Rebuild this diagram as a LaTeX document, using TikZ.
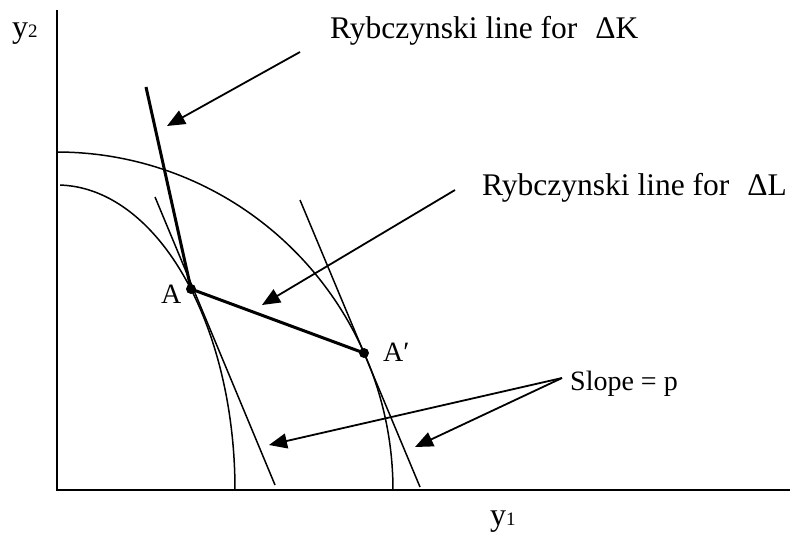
\documentclass[tikz,border=0pt]{standalone}
\usepackage{fontspec}
\setmainfont{Liberation Serif}
\usetikzlibrary{arrows.meta}
\begin{document}
\begin{tikzpicture}[x=1pt,y=-1pt,
  axis/.style={line width=2pt},
  thin/.style={line width=1.5pt},
  thick line/.style={line width=3pt},
  callout/.style={line width=1.8pt,-{Triangle[length=18pt,width=15pt]}},
  dot/.style={circle,fill=black,inner sep=0pt,minimum size=10pt},
  lbl/.style={inner sep=0pt,anchor=base west,font=\fontsize{31.5}{36}\selectfont},
  small/.style={inner sep=0pt,anchor=base west,font=\fontsize{28}{30}\selectfont},
  axlbl/.style={inner sep=0pt,anchor=base west,font=\fontsize{32}{34}\selectfont}]
\useasboundingbox (0,0) rectangle (791,538);
% axes
\coordinate (O) at (57,490);
\coordinate (ytop) at (57,10);
\coordinate (xend) at (790,490);
\draw[axis] (ytop) -- (O) -- (xend);
% curves
\draw[thin] plot[domain=0:90,samples=80] ({57+336*cos(\x)},{490-338*sin(\x)});
\draw[thin] plot[domain=0:89,samples=80] ({57+178*cos(\x)},{490-305*sin(\x)});
% points
\coordinate (A) at (191,289);
\coordinate (Ap) at (364,353);
% tangent lines
\coordinate (t1a) at (155,197);
\coordinate (t1b) at (275,485);
\coordinate (t2a) at (300,200);
\coordinate (t2b) at (420,487);
\draw[thin] (t1a) -- (t1b);
\draw[thin] (t2a) -- (t2b);
% Rybczynski lines
\coordinate (K) at (146,87);
\draw[thick line] (K) -- (A);
\draw[thick line] (A) -- (Ap);
\node[dot] (dA) at (A) {};
\node[dot] (dAp) at (Ap) {};
% labels
\node[lbl] (lK) at (330,38) {Rybczynski line for\hspace{10pt} ΔK};
\node[lbl] (lL) at (482,195) {Rybczynski line for\hspace{10pt} ΔL};
\node[small] (lS) at (570,390) {Slope = p};
\node[small] (lA) at (161,303) {A};
\node[small] (lAp) at (383,361) {A′};
\node[axlbl] (y2) at (12,37) {y{\fontsize{19}{20}\selectfont 2}};
\node[axlbl] (y1) at (490,525) {y{\fontsize{19}{20}\selectfont 1}};
% callout arrows
\coordinate (cK) at (300,52);
\coordinate (cKt) at (167,126);
\coordinate (cL) at (455,190);
\coordinate (cLt) at (262,305);
\coordinate (cS) at (562,378);
\coordinate (cS1) at (269,445);
\coordinate (cS2) at (415,447);
\draw[callout] (cK) -- (cKt);
\draw[callout] (cL) -- (cLt);
\draw[callout] (cS) -- (cS1);
\draw[callout] (cS) -- (cS2);
\end{tikzpicture}
\end{document}
